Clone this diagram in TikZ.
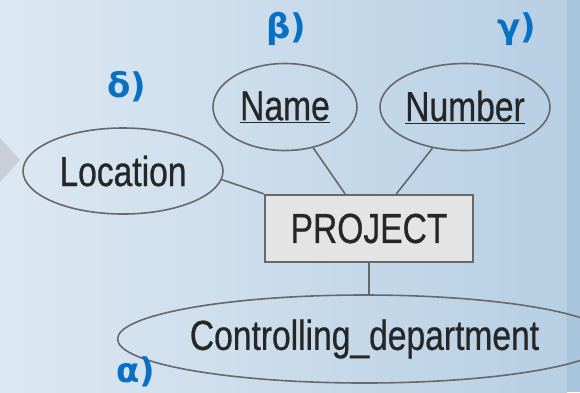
\documentclass[tikz,border=0pt]{standalone}
\usepackage{fontspec}
\usetikzlibrary{shapes.geometric}
\newfontfamily\erfont[FakeStretch=0.8,FakeBold=0.6]{Liberation Sans}
\newfontfamily\lblfont{DejaVu Sans}
\definecolor{bgleft}{HTML}{DCE8F2}
\definecolor{bgright}{HTML}{B7CFE4}
\definecolor{strip}{HTML}{A9C5DD}
\definecolor{linegray}{HTML}{686868}
\definecolor{boxfill}{HTML}{E4E4E4}
\definecolor{txt}{HTML}{262626}
\definecolor{lblblue}{HTML}{0A70C2}
\definecolor{tri}{HTML}{C9CED9}
\tikzset{
  attr/.style={ellipse, draw=linegray, line width=1.6pt, inner sep=0pt, text=txt,
    font=\erfont\fontsize{42}{44}\selectfont},
  entity/.style={rectangle, draw=linegray, line width=2.2pt, fill=boxfill, inner sep=0pt,
    minimum width=208pt, minimum height=67pt, text=txt, font=\erfont\fontsize{42}{44}\selectfont},
  conn/.style={draw=linegray, line width=1.6pt},
  lbl/.style={text=lblblue, font=\lblfont\bfseries\fontsize{34}{36}\selectfont, inner sep=0pt}
}
\begin{document}
\begin{tikzpicture}[x=1pt,y=-1pt]
\useasboundingbox (0,0) rectangle (580,392);
\shade[left color=bgleft, right color=bgright] (0,0) rectangle (567,392);
\fill[strip] (567,0) rectangle (580,392);
\fill[tri] (0,138) -- (20,160) -- (0,182) -- cycle;
% entity and attributes
\node[entity] (proj) at (369,228.5) {PROJECT};
\node[attr, minimum width=144pt, minimum height=87pt] (name) at (285,107) {\underline{Name}};
\node[attr, minimum width=170pt, minimum height=87pt] (num) at (465,107) {\underline{Number}};
\node[attr, minimum width=200pt, minimum height=86pt] (loc) at (123,171) {Location};
\node[attr, minimum width=424pt, minimum height=88pt] (ctrl) at (364.5,339) {Controlling\_department};
% connectors
\draw[conn] (name) -- (proj);
\draw[conn] (num) -- (proj);
\draw[conn] (loc.-5) -- (proj.north west);
\draw[conn] (proj.south) -- (proj.south |- ctrl.north);
% labels
\node[lbl] (lb) at (286,29) {β)};
\node[lbl] (lg) at (517,29) {γ)};
\node[lbl] (ld) at (127,87) {δ)};
\node[lbl] (la) at (136,372) {α)};
\end{tikzpicture}
\end{document}
